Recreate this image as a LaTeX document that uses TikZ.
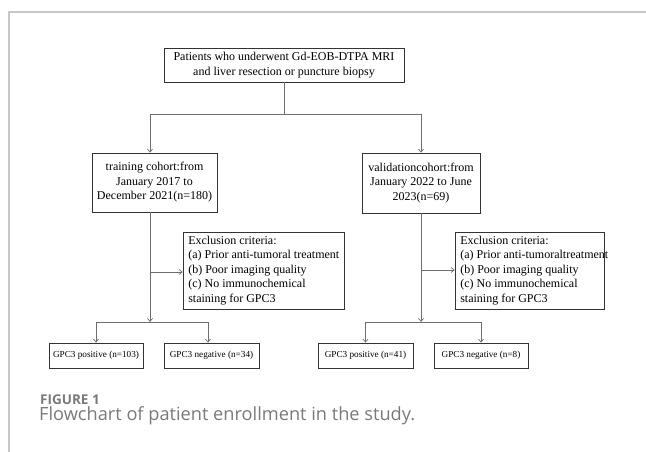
\documentclass[tikz,border=0pt]{standalone}
\usepackage{fontspec}
\setmainfont{Liberation Serif}
\newfontfamily\capfont{Open Sans}
\usetikzlibrary{arrows.meta}
\definecolor{framegray}{HTML}{C8C8C8}
\definecolor{linegray}{HTML}{6E6E6E}
\definecolor{boxline}{HTML}{333333}
\definecolor{capgray}{HTML}{7A7A7A}
\begin{document}
\begin{tikzpicture}[x=1pt,y=-1pt,
  box/.style={draw=boxline, line width=0.8pt, inner sep=0pt, align=center,
    font=\fontsize{12}{14.5}\selectfont},
  smallbox/.style={draw=boxline, line width=0.8pt, inner sep=0pt, align=center,
    font=\fontsize{9.2}{11}\selectfont},
  exbox/.style={draw=boxline, line width=0.8pt, inner sep=0pt},
  extext/.style={anchor=west, inner sep=0pt, align=left,
    font=\fontsize{12}{14.5}\selectfont},
  conn/.style={draw=linegray, line width=0.7pt},
  arr/.style={conn, -{Straight Barb[length=3pt,width=5pt]}}]
\useasboundingbox (0,0) rectangle (646,452);
\draw[framegray, line width=1.2pt] (646,12) -- (9,12) -- (9,452);

\node[box, minimum width=240, minimum height=34] (top) at (284,65)
  {Patients who underwent Gd-EOB-DTPA MRI\\and liver resection or puncture biopsy};
\node[box, minimum width=125, minimum height=59] (train) at (154.5,182.5)
  {training cohort:from\\January 2017 to\\December 2021(n=180)};
\node[box, minimum width=118, minimum height=60] (valid) at (421,183)
  {validationcohort:from\\January 2022 to June\\2023(n=69)};
\node[exbox, minimum width=161, minimum height=77] (ex1) at (263.5,270.5) {};
\node[extext] (ex1t) at ([xshift=5.5]ex1.west)
  {Exclusion criteria:\\(a) Prior anti-tumoral treatment\\(b) Poor imaging quality\\(c) No immunochemical\\staining for GPC3};
\node[exbox, minimum width=149, minimum height=77] (ex2) at (529.5,270.5) {};
\node[extext] (ex2t) at ([xshift=5.5]ex2.west)
  {Exclusion criteria:\\(a) Prior anti-tumoraltreatment\\(b) Poor imaging quality\\(c) No immunochemical\\staining for GPC3};
\node[smallbox, minimum width=94, minimum height=25] (pos1) at (96,355.5) {GPC3 positive (n=103)};
\node[smallbox, minimum width=95, minimum height=25] (neg1) at (211.5,355.5) {GPC3 negative (n=34)};
\node[smallbox, minimum width=95, minimum height=25] (pos2) at (365.5,355.5) {GPC3 positive (n=41)};
\node[smallbox, minimum width=94, minimum height=25] (neg2) at (481,355.5) {GPC3 negative (n=8)};

% top split
\coordinate (split) at (284,114);
\draw[conn] (top.south) -- (split);
\draw[arr] (split) -| (150,0 |- train.north);
\draw[arr] (split) -| (valid.north);

% training branch
\coordinate (tj) at (150,322);
\draw[arr] (train.south -| tj) -- (tj);
\draw[arr] (150,272) -- (ex1.west |- 0,272);
\draw[arr] (tj) -| (pos1.north);
\draw[arr] (tj) -| (208,0 |- neg1.north);

% validation branch
\coordinate (vj) at (421,322);
\draw[arr] (valid.south) -- (vj);
\draw[arr] (421,270) -- (ex2.west |- 0,270);
\draw[arr] (vj) -| (pos2.north);
\draw[arr] (vj) -| (neg2.north);

% caption
\node[anchor=base west, inner sep=0pt, text=capgray, font=\capfont\bfseries\fontsize{13.5}{15}\selectfont] (fig) at (40,404) {FIGURE 1};
\node[anchor=base west, inner sep=0pt, text=capgray, font=\capfont\fontsize{18.2}{20}\selectfont] (cap) at (39,420) {Flowchart of patient enrollment in the study.};
\end{tikzpicture}
\end{document}
